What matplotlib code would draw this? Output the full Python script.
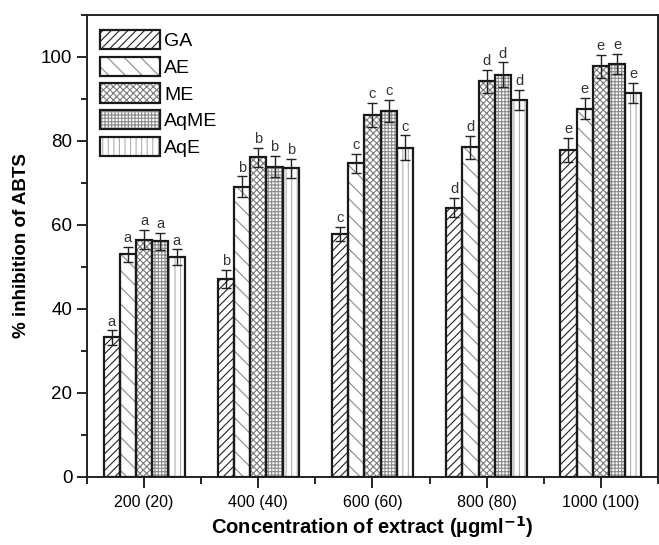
import matplotlib
matplotlib.use("Agg")
import matplotlib.pyplot as plt
from matplotlib.patches import Patch
from matplotlib.legend_handler import HandlerTuple
from matplotlib.ticker import MultipleLocator
import numpy as np

plt.rcParams['font.family'] = ['Liberation Sans', 'DejaVu Sans']
plt.rcParams['hatch.linewidth'] = 0.8

# data
groups = ["200 (20)", "400 (40)", "600 (60)", "800 (80)", "1000 (100)"]
series = ["GA", "AE", "ME", "AqME", "AqE"]
ga = [33.2, 47.1, 57.9, 64.1, 77.8]
ae = [53.0, 69.1, 74.7, 78.5, 87.7]
me = [56.5, 76.1, 86.2, 94.2, 97.8]
aqme = [56.1, 73.9, 87.2, 95.8, 98.4]
aqe = [52.3, 73.5, 78.4, 89.7, 91.5]
ga_err = [1.7, 2.2, 1.7, 2.3, 2.9]
ae_err = [1.8, 2.5, 2.3, 2.7, 2.5]
me_err = [2.3, 2.3, 2.8, 2.8, 2.7]
aqme_err = [2.0, 2.5, 2.6, 2.9, 2.4]
aqe_err = [1.9, 2.3, 2.9, 2.4, 2.4]
letters = ["a", "b", "c", "d", "e"]

values = [ga, ae, me, aqme, aqe]
errors = [ga_err, ae_err, me_err, aqme_err, aqe_err]
hatches = ["////", "\\\\", "xxxxx", "+++++", "|||"]
hatch_colors = ["#222222", "#8a8a8a", "#7a7a7a", "#8a8a8a", "#b0b0b0"]

fig = plt.figure(figsize=(6.59, 5.45), dpi=100)
ax = fig.add_axes([0.132, 0.125, 0.8665, 0.8475])

x = np.arange(1, len(groups) + 1)
width = 0.142
handles = []
for i, name in enumerate(series):
    pos = x + (i - 2) * width
    ax.bar(pos, values[i], width, color="white", edgecolor=hatch_colors[i],
           hatch=hatches[i], linewidth=0, zorder=2)
    ax.bar(pos, values[i], width, fill=False, edgecolor="#1a1a1a",
           linewidth=1.6, zorder=3)
    ax.errorbar(pos, values[i], yerr=errors[i], fmt="none", ecolor="#222222",
                elinewidth=1.0, capsize=3.5, capthick=1.0, zorder=4)
    for j in range(len(groups)):
        ax.text(pos[j], values[i][j] + errors[i][j] + 0.4, letters[j],
                ha="center", va="bottom", fontsize=10.5, color="#333333")
    h1 = Patch(facecolor="white", edgecolor=hatch_colors[i], hatch=hatches[i], linewidth=0)
    h2 = Patch(fill=False, edgecolor="#1a1a1a", linewidth=1.6)
    handles.append((h1, h2))

ax.legend(handles, series, handler_map={tuple: HandlerTuple(ndivide=1, pad=0)},
          loc="upper left", bbox_to_anchor=(-0.008, 1.005), frameon=False,
          fontsize=14, handlelength=3.1, handleheight=1.15, labelspacing=0.33,
          handletextpad=0.2, borderaxespad=0.5, borderpad=0.4)

ax.set_xlim(0.5, 5.5)
ax.set_ylim(0, 110)
ax.set_xticks(x)
ax.set_xticklabels(groups, fontsize=11.5)
ax.set_xticks(np.arange(0.5, 6.0, 1.0), minor=True)
ax.yaxis.set_major_locator(MultipleLocator(20))
ax.yaxis.set_minor_locator(MultipleLocator(10))
ax.set_yticks([0, 20, 40, 60, 80, 100])
ax.tick_params(axis="y", which="major", direction="out", length=7, width=1.2, labelsize=13.5)
ax.tick_params(axis="y", which="minor", direction="out", length=4, width=1.2)
ax.tick_params(axis="x", which="major", direction="out", length=8, width=1.2, pad=5)
ax.tick_params(axis="x", which="minor", direction="out", length=5, width=1.2)
for s in ax.spines.values():
    s.set_linewidth(1.4)
    s.set_color("#222222")

ax.set_ylabel("% inhibition of ABTS", fontsize=13.5, fontweight="bold", labelpad=8)
ax.set_xlabel("Concentration of extract (\u00b5gml$^{\\mathbf{-1}}$)", fontsize=14.5,
              fontweight="bold", labelpad=3)

fig.savefig("out.png", dpi=100)
